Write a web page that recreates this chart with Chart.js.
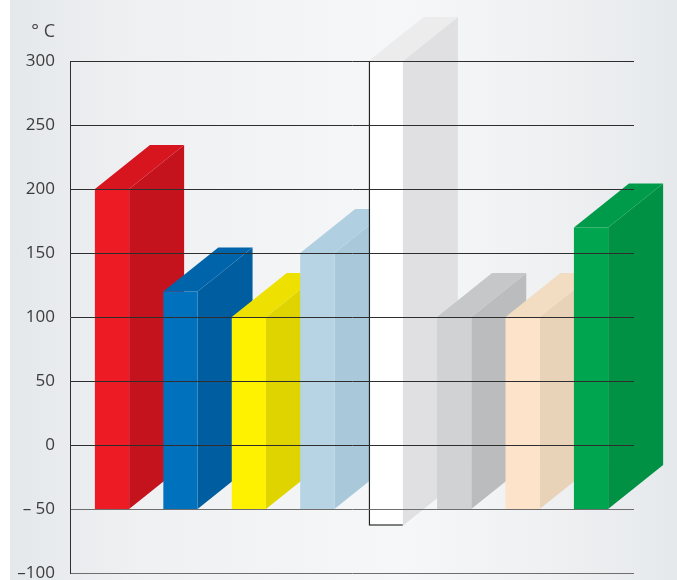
<!DOCTYPE html>
<html>
<head>
<meta charset="utf-8">
<script src="https://cdn.jsdelivr.net/npm/chart.js@4/dist/chart.umd.min.js"></script>
<style>
  html, body { margin: 0; padding: 0; }
  body {
    width: 677px; height: 580px; overflow: hidden;
    background: linear-gradient(to right, #ffffff 0, #ffffff 10px, #e5e8eb 10px, #eef0f2 130px, #f6f7f8 400px, #eef0f2 560px, #e6e9ec 677px);
  }
  #wrap { position: relative; width: 677px; height: 580px; }
  canvas { display: block; }
</style>
</head>
<body>
<div id="wrap"><canvas id="chart" width="677" height="580"></canvas></div>
<script>
// bars (no category names shown in the picture)
const categories = ['A', 'B', 'C', 'D', 'E', 'F', 'G', 'H'];
const lowValues = [-50, -50, -50, -50, -63, -50, -50, -50];
const highValues = [200, 120, 100, 150, 300, 100, 100, 170];
const tickLabels = {'-100': '\u2013100', '-50': '\u2013 50', '0': '0', '50': '50', '100': '100', '150': '150', '200': '200', '250': '250', '300': '300'};
const unitLabel = '\u00b0 C';

const frontColors = ['#ed1c24', '#0071bc', '#fff200', '#b6d4e4', '#ffffff', '#d1d2d4', '#fde3c9', '#00a54f'];
const sideColors  = ['#c4131c', '#005d9f', '#e0d400', '#a9c9db', '#e0e0e2', '#bbbcbe', '#e8d2b8', '#009145'];
const topColors   = ['#d7151e', '#0064ab', '#eee000', '#b0cfe0', '#ececec', '#c6c7c9', '#f2dcc2', '#009b4a'];

const DX = 55, DY = 44;

// draws the side and top of each bar before the fronts go on
const depthPlugin = {
  id: 'depth',
  beforeDatasetsDraw(chart) {
    const ctx = chart.ctx;
    const bars = chart.getDatasetMeta(0).data;
    ctx.save();
    bars.forEach((bar, i) => {
      const left = bar.x - bar.width / 2;
      const right = bar.x + bar.width / 2;
      const top = bar.y;
      const bottom = bar.base;

      ctx.fillStyle = sideColors[i];
      ctx.beginPath();
      ctx.moveTo(right, top);
      ctx.lineTo(right + DX, top - DY);
      ctx.lineTo(right + DX, bottom - DY);
      ctx.lineTo(right, bottom);
      ctx.closePath();
      ctx.fill();

      ctx.fillStyle = topColors[i];
      ctx.beginPath();
      ctx.moveTo(left, top);
      ctx.lineTo(right, top);
      ctx.lineTo(right + DX, top - DY);
      ctx.lineTo(left + DX, top - DY);
      ctx.closePath();
      ctx.fill();
    });
    ctx.restore();
  },
  afterDraw(chart) {
    const ctx = chart.ctx;
    ctx.save();
    ctx.font = '18px "Open Sans", sans-serif';
    ctx.fillStyle = '#444';
    ctx.textAlign = 'right';
    ctx.textBaseline = 'alphabetic';
    ctx.fillText(unitLabel, 55, 37);
    ctx.restore();
  }
};

const points = categories.map((c, i) => ({ x: i, y: [lowValues[i], highValues[i]] }));

new Chart(document.getElementById('chart'), {
  type: 'bar',
  data: {
    labels: categories,
    datasets: [{
      data: points,
      backgroundColor: frontColors,
      borderColor: '#222',
      borderSkipped: false,
      borderWidth: ctx => ctx.dataIndex === 4 ? { left: 1.5, bottom: 1.5, top: 0, right: 0 } : 0,
      barPercentage: 0.5,
      categoryPercentage: 1
    }]
  },
  options: {
    responsive: false,
    animation: false,
    devicePixelRatio: 1,
    layout: { padding: { left: 0, right: 43, top: 61, bottom: 7 } },
    plugins: { legend: { display: false }, tooltip: { enabled: false } },
    scales: {
      x: {
        type: 'linear',
        offset: false,
        min: -0.614,
        max: 7.628,
        display: false
      },
      y: {
        min: -100,
        max: 300,
        afterFit: scale => {
          scale.width = 70;
          scale.paddingTop = 0;
          scale.paddingBottom = 0;
        },
        ticks: {
          stepSize: 50,
          padding: 15,
          color: '#3c3c3c',
          font: { family: '"Open Sans", sans-serif', size: 17 },
          callback: v => tickLabels[String(v)]
        },
        grid: {
          z: 1,
          drawTicks: false,
          lineWidth: 1,
          color: ctx => (ctx.tick && ctx.tick.value <= -50) ? '#6e6e6e' : '#2e2e2e'
        },
        border: { z: 1, display: true, color: '#2e2e2e', width: 1 }
      }
    }
  },
  plugins: [depthPlugin]
});
</script>
</body>
</html>
